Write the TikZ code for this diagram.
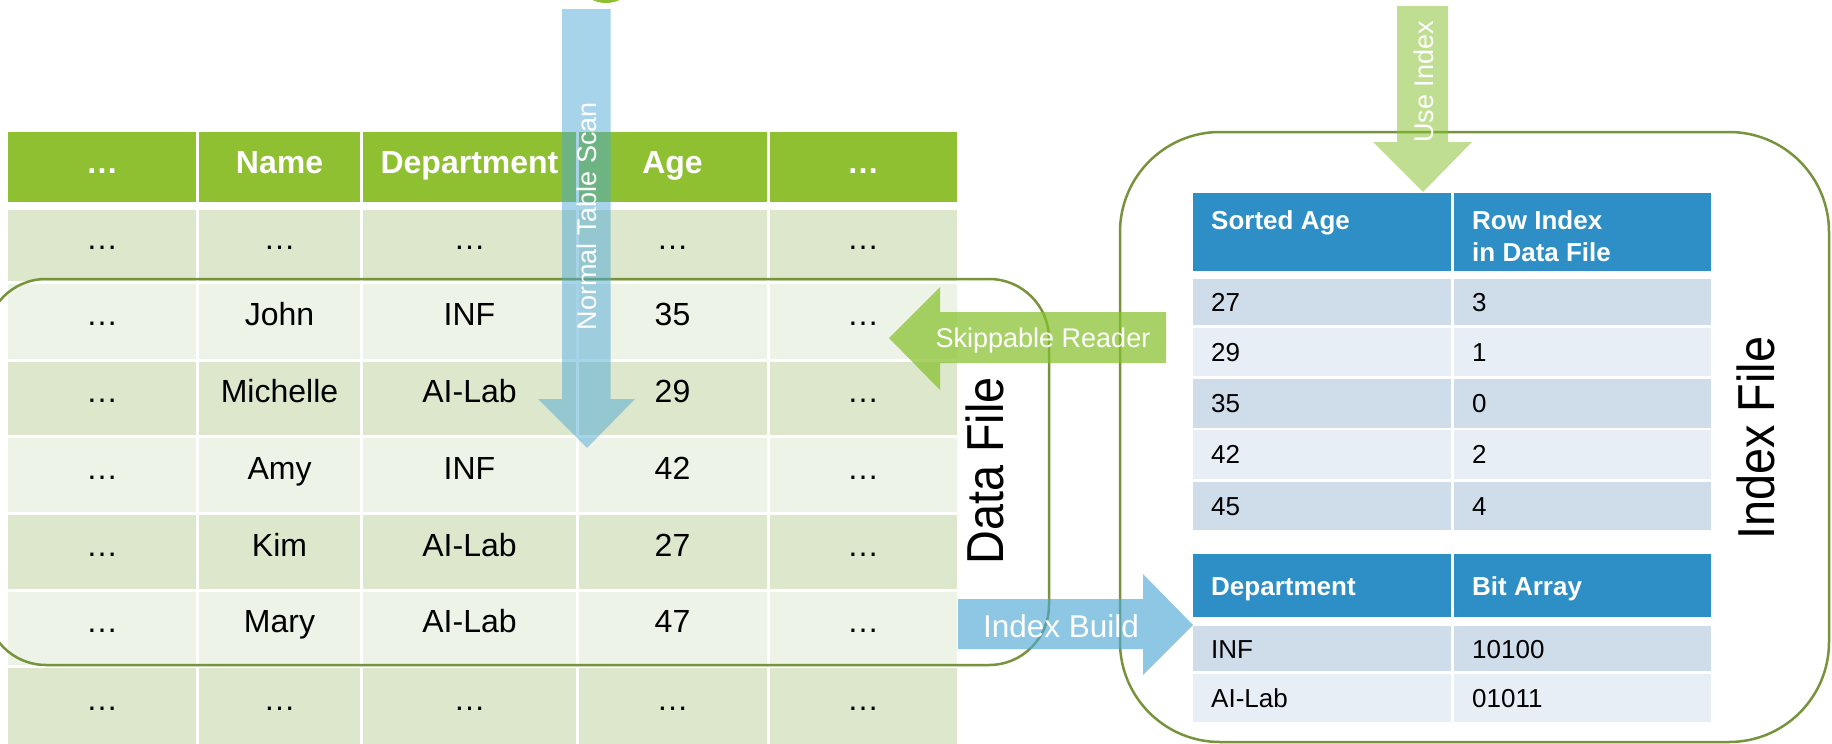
\documentclass[tikz,border=0pt]{standalone}
\usepackage{fontspec}
\setmainfont{Liberation Sans}
\newfontfamily\narrowfont[FakeStretch=0.9]{Liberation Sans}

\definecolor{hdrgreen}{RGB}{142,192,50}
\definecolor{rowdark}{RGB}{220,231,203}
\definecolor{rowlight}{RGB}{237,243,231}
\definecolor{frameline}{RGB}{119,147,60}
\definecolor{hdrblue}{RGB}{46,142,198}
\definecolor{bluedark}{RGB}{207,220,234}
\definecolor{bluelight}{RGB}{232,238,246}
\definecolor{arrowblue}{RGB}{80,169,213}
\definecolor{arrowgreen}{RGB}{135,192,45}

\tikzset{
  cell/.style={anchor=center, inner sep=0pt, text height=23pt, text depth=15pt,
    font=\fontsize{32}{38}\selectfont},
  hcell/.style={cell, text depth=11pt, text=white, font=\fontsize{32}{38}\selectfont\bfseries},
  icell/.style={anchor=base west, inner sep=0pt, font=\fontsize{26}{31}\selectfont},
  ihead/.style={icell, text=white, font=\fontsize{26}{31}\selectfont\bfseries},
  filebox/.style={draw=frameline, line width=2.5pt},
  arrowlabel/.style={anchor=center, inner sep=0pt, text=white, text height=19pt,
    text depth=0pt, font=\fontsize{27}{32}\selectfont},
  filelabel/.style={anchor=center, inner sep=0pt, text height=37pt, text depth=0pt,
    font=\fontsize{52}{60}\narrowfont}
}

\begin{document}
\begin{tikzpicture}[x=1pt, y=-1pt]
\useasboundingbox (0,0) rectangle (1832,744);

% partly visible disc above the scan arrow
\fill[hdrgreen] (606,-29) circle (32);

% ---------- data table ----------
\fill[hdrgreen] (8,132) rectangle (957,202);
\foreach \t/\b/\c in {210/281/rowdark, 284/359/rowlight, 362/435/rowdark,
                      438/512/rowlight, 515/589/rowdark, 592/665/rowlight,
                      668/746/rowdark}
  \fill[\c] (8,\t) rectangle (957,\b);
\foreach \x in {197.5,361.5,577,768}
  \fill[white] (\x-1.5,132) rectangle (\x+1.5,746);

% header
\node[hcell] (h1) at (102,167) {…};
\node[hcell] (h2) at (279.5,167) {Name};
\node[hcell] (h3) at (469.5,167) {Department};
\node[hcell] (h4) at (672.5,167) {Age};
\node[hcell] (h5) at (863,167) {…};

% body rows
\foreach \t/\b/\na/\de/\ag [count=\i] in {
    210/281/…/…/…,
    284/359/John/INF/35,
    362/435/Michelle/AI-Lab/29,
    438/512/Amy/INF/42,
    515/589/Kim/AI-Lab/27,
    592/665/Mary/AI-Lab/47,
    668/744/…/…/…}{
  \node[cell] (r\i c1) at (102,{(\t+\b)/2}) {…};
  \node[cell] (r\i c2) at (279.5,{(\t+\b)/2}) {\na};
  \node[cell] (r\i c3) at (469.5,{(\t+\b)/2}) {\de};
  \node[cell] (r\i c4) at (672.5,{(\t+\b)/2}) {\ag};
  \node[cell] (r\i c5) at (863,{(\t+\b)/2}) {…};
}

% ---------- index tables ----------
\fill[hdrblue] (1193,193) rectangle (1711,271);
\foreach \t/\b/\c in {279/325/bluedark, 328/376/bluelight, 379/428/bluedark,
                      430/479/bluelight, 482/530/bluedark}
  \fill[\c] (1193,\t) rectangle (1711,\b);
\fill[hdrblue] (1193,554) rectangle (1711,617);
\fill[bluedark] (1193,626) rectangle (1711,671);
\fill[bluelight] (1193,674) rectangle (1711,722);
\fill[white] (1450.5,190) rectangle (1453.5,725);

\node[ihead] (sa) at (1211,229) {Sorted Age};
\node[ihead] (ri1) at (1472,229) {Row Index};
\node[ihead] (ri2) at (1472,261) {in Data File};
\foreach \y/\a/\r [count=\i] in {311/27/3, 361/29/1, 412/35/0, 463/42/2, 515/45/4}{
  \node[icell] (ia\i) at (1211,\y) {\a};
  \node[icell] (ir\i) at (1472,\y) {\r};
}
\node[ihead] (dh) at (1211,595) {Department};
\node[ihead] (bh) at (1472,595) {Bit Array};
\node[icell] (d1) at (1211,658) {INF};
\node[icell] (b1) at (1472,658) {10100};
\node[icell] (d2) at (1211,707) {AI-Lab};
\node[icell] (b2) at (1472,707) {01011};

% ---------- file frames ----------
\draw[filebox, rounded corners=60pt] (-14,279) rectangle (1049,665);
\draw[filebox, rounded corners=100pt] (1120,132) rectangle (1829,742);

\node[filelabel, rotate=90] (datafile) at (985,471) {Data File};
\node[filelabel, rotate=90] (indexfile) at (1756,438) {Index File};

% ---------- block arrows ----------
\fill[arrowblue, fill opacity=0.5]
  (562,9) -- (610.5,9) -- (610.5,399) -- (635,399) -- (587,448)
  -- (538,399) -- (562,399) -- cycle;
\fill[arrowgreen, fill opacity=0.52]
  (1397,6) -- (1448,6) -- (1448,142) -- (1472,142) -- (1423,192)
  -- (1373,142) -- (1397,142) -- cycle;
\fill[arrowgreen, fill opacity=0.72]
  (1166,312) -- (1166,363) -- (940,363) -- (940,390) -- (889,338)
  -- (940,287) -- (940,312) -- cycle;
\fill[arrowblue, fill opacity=0.65]
  (958,599) -- (1143,599) -- (1143,574) -- (1193,625) -- (1143,675)
  -- (1143,649) -- (958,649) -- cycle;

\node[arrowlabel, rotate=90] (scan) at (587,216) {Normal Table Scan};
\node[arrowlabel, rotate=90] (useidx) at (1424,82) {Use Index};
\node[arrowlabel] (skip) at (1043,338) {Skippable Reader};
\node[arrowlabel, text height=22pt, font=\fontsize{31.5}{36}\selectfont] (build) at (1061,626) {Index Build};
\end{tikzpicture}
\end{document}
